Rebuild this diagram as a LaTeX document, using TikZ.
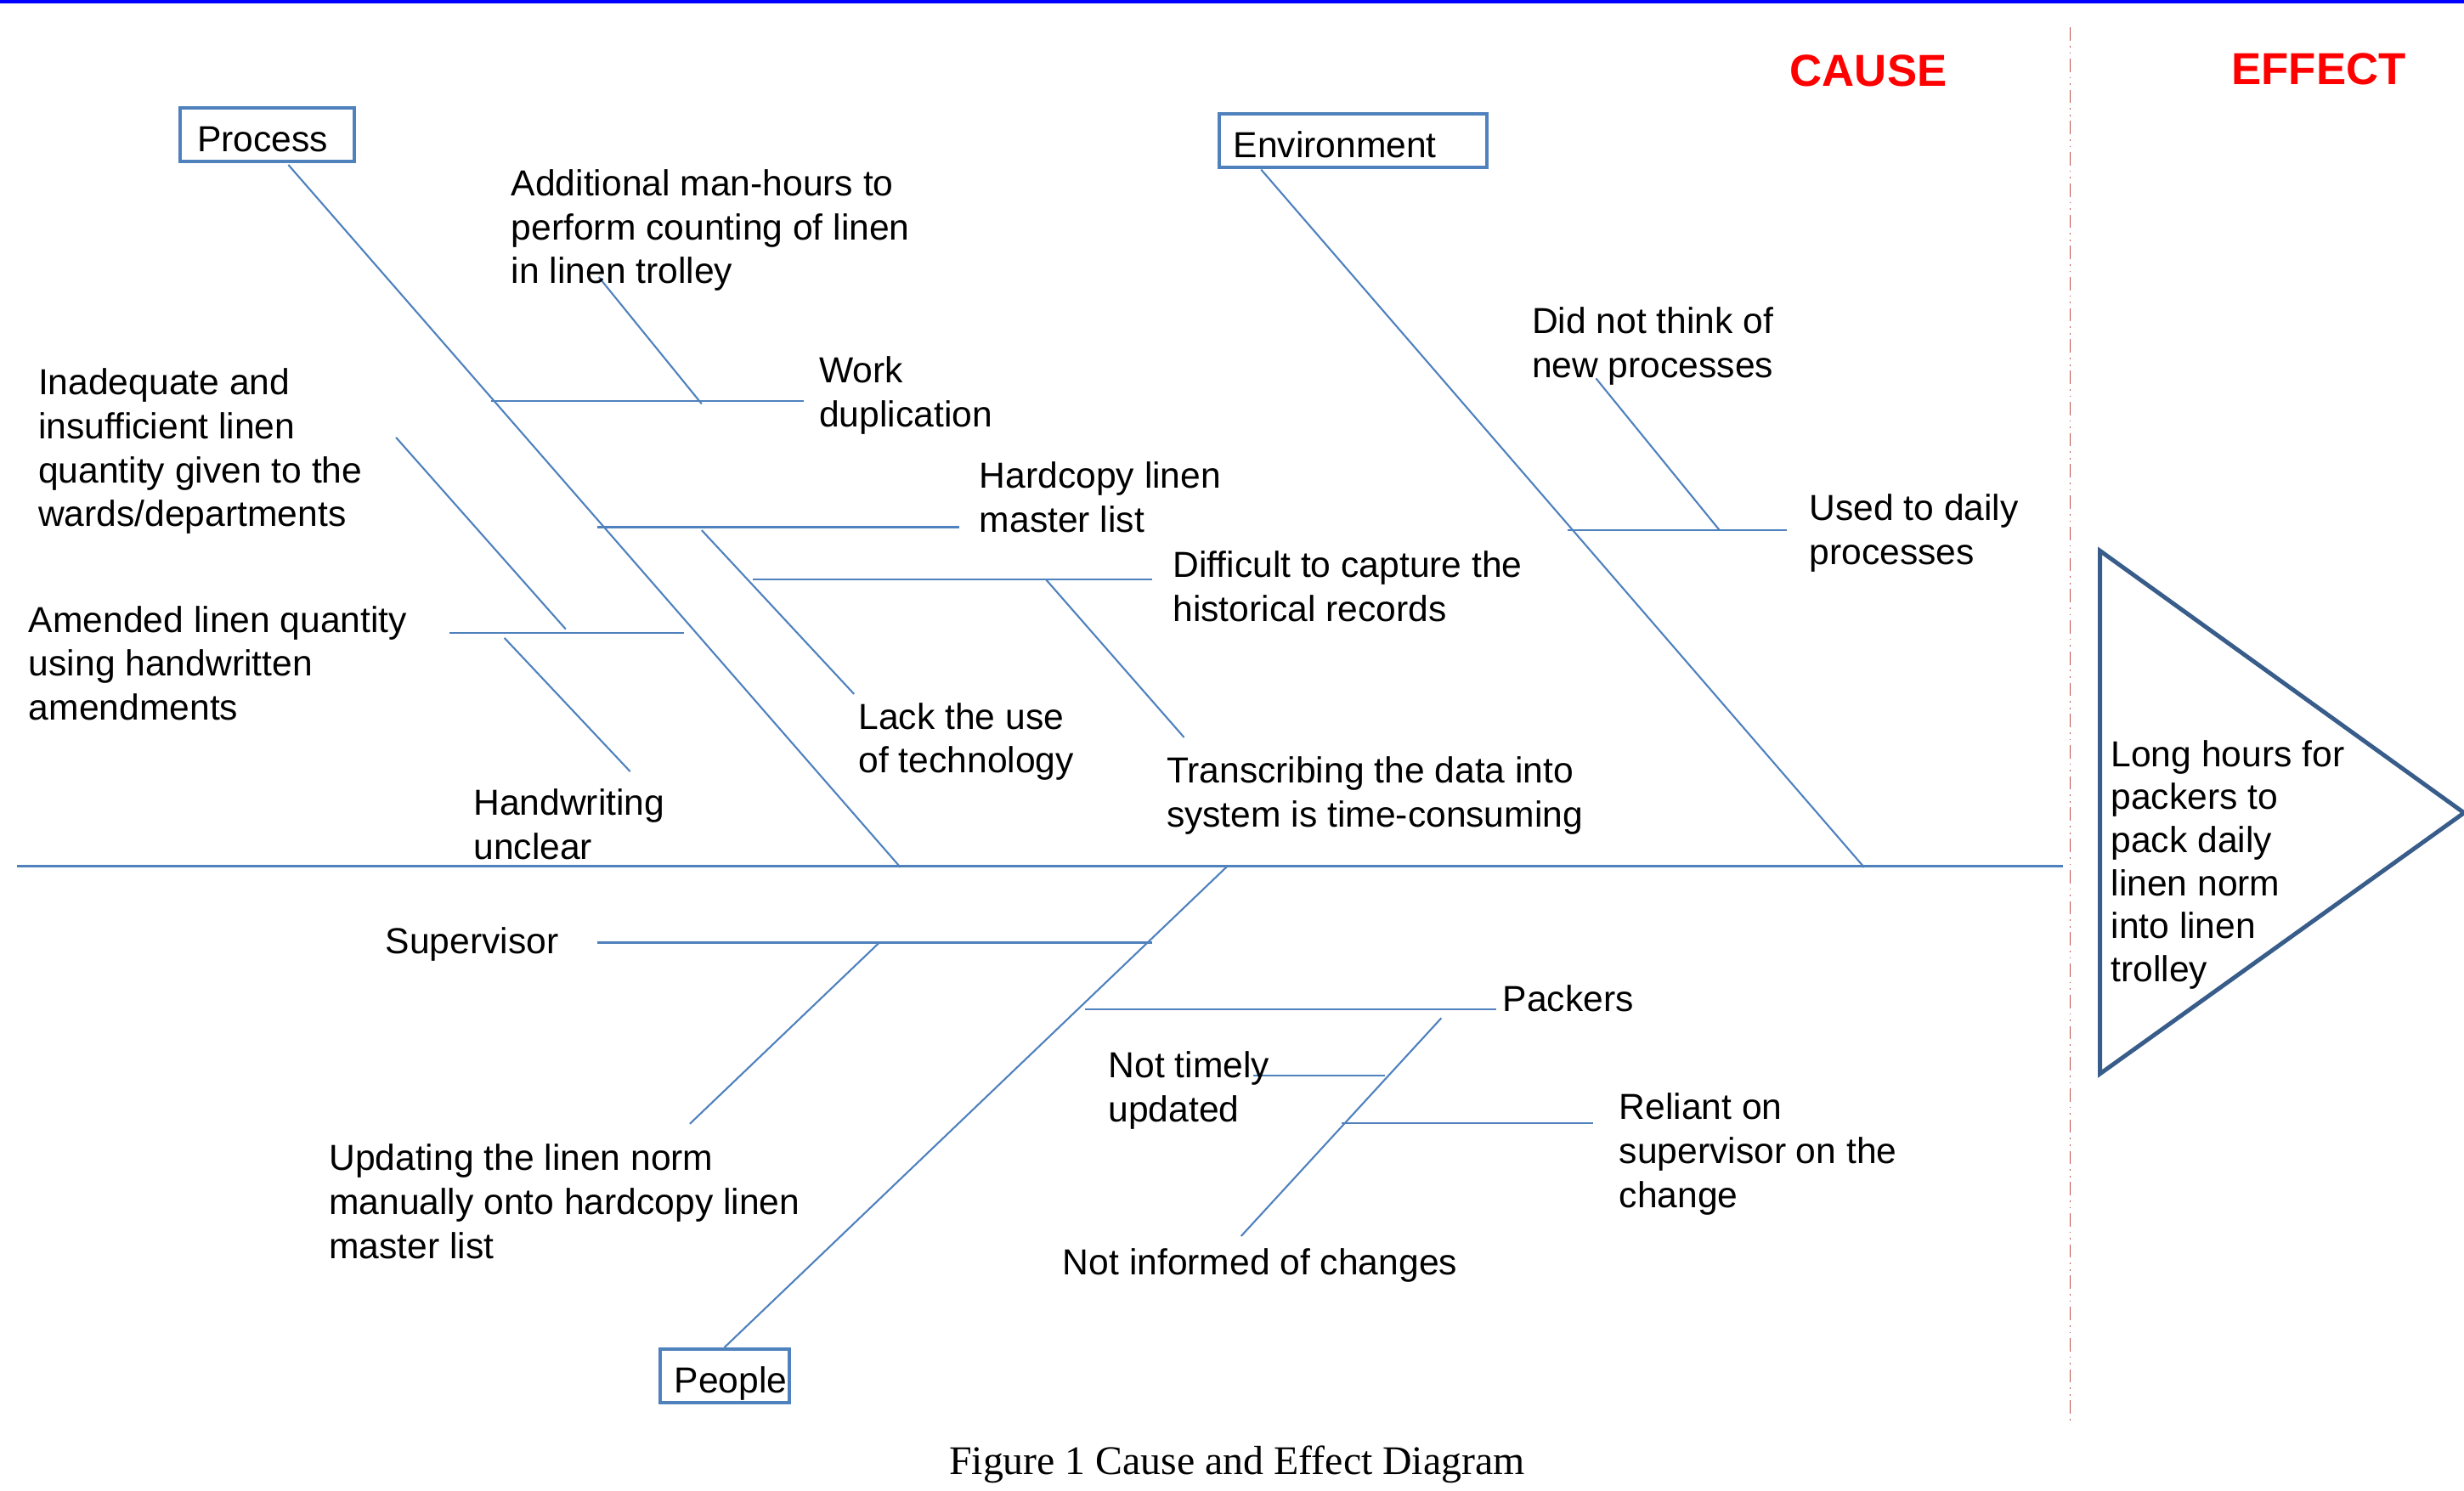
\documentclass[tikz,border=0pt]{standalone}
\usepackage{fontspec}
\setmainfont{Liberation Sans}
\newfontfamily\capfont{Liberation Serif}
\definecolor{boneblue}{RGB}{79,129,189}
\definecolor{tridark}{RGB}{56,93,138}
\definecolor{dashred}{RGB}{192,80,77}
\definecolor{headred}{RGB}{255,0,0}
\definecolor{topblue}{RGB}{0,0,255}
\begin{document}
\begin{tikzpicture}[x=0.018495cm,y=-0.018495cm,
  bone/.style={draw=boneblue,line width=0.6pt},
  lbl/.style={anchor=north west,inner sep=0pt,align=left,yshift=-1.5pt,font=\fontsize{12.12}{14.73}\selectfont,execute at begin node=\strut},
  catbox/.style={draw=boneblue,line width=1.15pt,anchor=west,inner ysep=0pt,align=left,font=\fontsize{12.12}{14.73}\selectfont,text height=11.4pt,text depth=0pt},
  heading/.style={inner sep=0pt,text=headred,font=\fontsize{15}{18}\selectfont\bfseries}]
\useasboundingbox (0,0) rectangle (1568,948.4);

% top rule
\coordinate (tl) at (0,0.95);
\coordinate (tr) at (1568,0.95);
\draw[topblue,line width=1pt] (tl) -- (tr);

% headings and divider
\node[heading] (cause) at (1189,44.9) {CAUSE};
\node[heading] (effecthead) at (1475.5,43.8) {EFFECT};
\coordinate (dl0) at (1317.2,17.4);
\coordinate (dl1) at (1317.2,906);
\draw[dashred,line width=0.35pt,dash pattern=on 4.47pt off 1.7pt on 0.48pt off 1.7pt on 0.48pt off 1.62pt] (dl0) -- (dl1);

% category boxes
\node[catbox,minimum height=17.9pt,inner xsep=5.63pt,text width=47pt] (process) at (113.7,85.6) {Process};
\node[catbox,minimum height=17.8pt,inner xsep=4.84pt,text width=80.1pt] (environment) at (774.6,89.6) {Environment};
\node[catbox,minimum height=17.8pt,inner xsep=4.68pt,text width=33.8pt] (people) at (419.1,875.6) {\mbox{People}};

% spine
\coordinate (s0) at (11,551.3);
\coordinate (s1) at (1313,551.3);
\draw[bone,line width=0.7pt] (s0) -- (s1);

% main bones
\coordinate (pb0) at (183.5,104.9);
\coordinate (pb1) at (573,552);
\coordinate (eb0) at (802.5,107.9);
\coordinate (eb1) at (1186.3,552);
\coordinate (qb0) at (781,551.3);
\coordinate (qb1) at (461,857.5);
\draw[bone] (pb0) -- (pb1);
\draw[bone] (eb0) -- (eb1);
\draw[bone] (qb0) -- (qb1);

% Process sub-bones
\coordinate (w0) at (312.5,255.1); \coordinate (w1) at (511.5,255.1);
\coordinate (a0) at (381,176.3);   \coordinate (a1) at (446.5,257);
\coordinate (h0) at (380,335.5);   \coordinate (h1) at (610.5,335.5);
\coordinate (l0) at (446.5,337.4); \coordinate (l1) at (543.5,441.7);
\coordinate (d0) at (479,368.7);   \coordinate (d1) at (733,368.7);
\coordinate (t0) at (665.5,368.7); \coordinate (t1) at (753.5,469.3);
\coordinate (m0) at (286,402.9);   \coordinate (m1) at (435.5,402.9);
\coordinate (i0) at (252,278.4);   \coordinate (i1) at (360,400.4);
\coordinate (u0) at (321,406);     \coordinate (u1) at (401,491);
\foreach \p/\q in {w0/w1,a0/a1,h0/h1,l0/l1,d0/d1,t0/t1,m0/m1,i0/i1,u0/u1}
  \draw[bone] (\p) -- (\q);

% Environment sub-bones
\coordinate (e0) at (997.5,337.4);  \coordinate (e1) at (1137.2,337.4);
\coordinate (n0) at (1015.6,240.8); \coordinate (n1) at (1094.2,337.4);
\draw[bone] (e0) -- (e1);
\draw[bone] (n0) -- (n1);

% People sub-bones
\coordinate (v0) at (380,599.9);   \coordinate (v1) at (733,599.9);
\coordinate (g0) at (559,600.4);   \coordinate (g1) at (439,715.2);
\coordinate (k0) at (690.3,642.2); \coordinate (k1) at (952.2,642.2);
\coordinate (f0) at (917.2,647.9); \coordinate (f1) at (789.8,786.7);
\coordinate (y0) at (797.7,684.3); \coordinate (y1) at (881.5,684.3);
\coordinate (r0) at (854,714.6);   \coordinate (r1) at (1013.8,714.6);
\foreach \p/\q in {v0/v1,g0/g1,k0/k1,f0/f1,y0/y1,r0/r1}
  \draw[bone] (\p) -- (\q);

% labels
\node[lbl] (additional) at (325,104.6) {Additional man-hours to\\perform counting of linen\\in linen trolley};
\node[lbl] (work) at (521,223.6) {Work\\duplication};
\node[lbl] (hardcopy) at (623,290.6) {Hardcopy linen\\master list};
\node[lbl] (difficult) at (746,347.6) {Difficult to capture the\\historical records};
\node[lbl] (lack) at (546,444.1) {Lack the use\\of technology};
\node[lbl] (transcribing) at (742,478.3) {Transcribing the data into\\system is time-consuming};
\node[lbl] (inadequate) at (24,231.2) {Inadequate and\\insufficient linen\\quantity given to the\\wards/departments};
\node[lbl] (amended) at (18,382.4) {Amended linen quantity\\using handwritten\\amendments};
\node[lbl] (handwriting) at (301,499.1) {Handwriting\\unclear};
\node[lbl] (didnot) at (974.5,192.3) {Did not think of\\new processes};
\node[lbl] (used) at (1151,311.4) {Used to daily\\processes};
\node[lbl] (supervisor) at (245,584.1) {Supervisor};
\node[lbl] (updating) at (209,725) {Updating the linen norm\\manually onto hardcopy linen\\master list};
\node[lbl] (packers) at (956,620.9) {Packers};
\node[lbl] (nottimely) at (705,666.1) {Not timely\\updated};
\node[lbl] (reliant) at (1030,692.5) {Reliant on\\supervisor on the\\change};
\node[lbl] (notinformed) at (676,788.6) {Not informed of changes};

% effect
\coordinate (ta) at (1336.3,350.5);
\coordinate (tb) at (1568,517.3);
\coordinate (tc) at (1336.3,683.4);
\draw[tridark,line width=1.42pt,line join=miter] (ta) -- (tb) -- (tc) -- cycle;
\node[lbl,font=\fontsize{12.12}{14.42}\selectfont] (effect) at (1343,467.9) {Long hours for\\packers to\\pack daily\\linen norm\\into linen\\trolley};

% caption
\node[anchor=base,inner sep=0pt,font=\capfont\fontsize{13.6}{16}\selectfont] (caption) at (787.2,938.5) {Figure 1 Cause and Effect Diagram};
\end{tikzpicture}
\end{document}
